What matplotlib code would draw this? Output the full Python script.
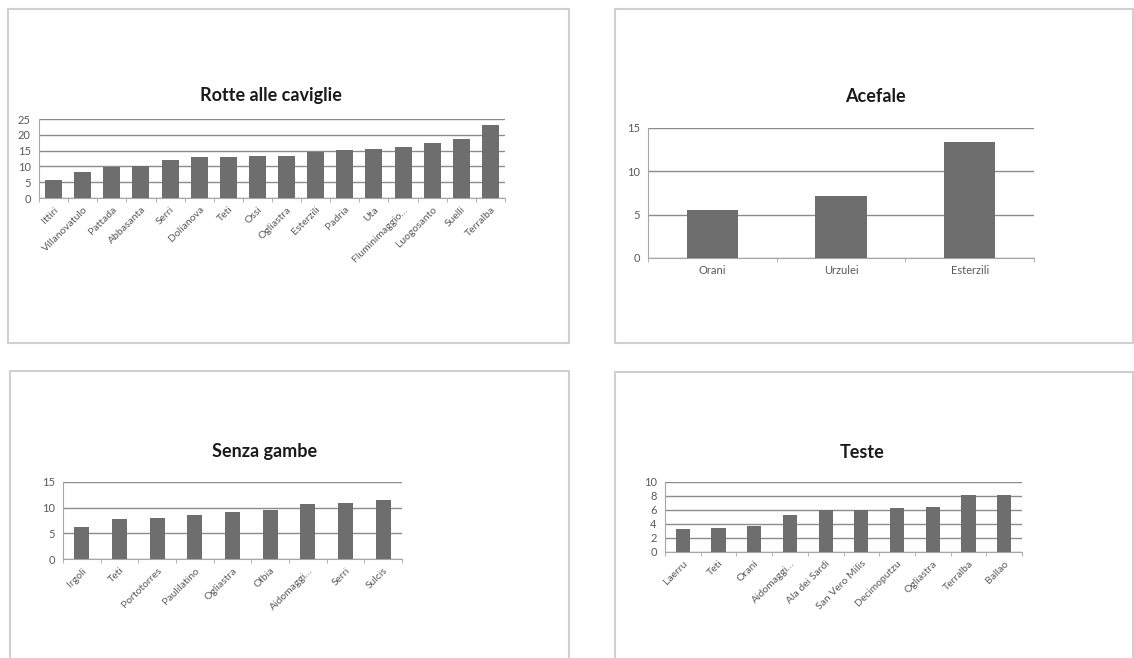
import matplotlib
matplotlib.use('Agg')

import matplotlib.pyplot as plt
from matplotlib.patches import Rectangle
import numpy as np

plt.rcParams['font.family'] = ['Lato', 'DejaVu Sans']

# Rotte alle caviglie
cav_labels = ['Ittiri', 'Villanovatulo', 'Pattada', 'Abbasanta', 'Serri', 'Dolianova', 'Teti',
              'Ossi', 'Ogliastra', 'Esterzili', 'Padria', 'Uta', 'Fluminimaggio…', 'Luogosanto',
              'Suelli', 'Terralba']
cav_values = [5.6, 8.1, 9.9, 10.1, 12.1, 12.9, 13.0, 13.2, 13.3, 14.5, 15.1, 15.6, 16.0, 17.3, 18.8, 23.1]

# Acefale
ace_labels = ['Orani', 'Urzulei', 'Esterzili']
ace_values = [5.5, 7.1, 13.4]

# Senza gambe
gam_labels = ['Irgoli', 'Teti', 'Portotorres', 'Paulilatino', 'Ogliastra', 'Olbia',
              'Aidomaggi…', 'Serri', 'Sulcis']
gam_values = [6.2, 7.8, 8.0, 8.6, 9.2, 9.5, 10.8, 11.0, 11.5]

# Teste
tes_labels = ['Laerru', 'Teti', 'Orani', 'Aidomaggi…', 'Ala dei Sardi', 'San Vero Milis',
              'Decimoputzu', 'Ogliastra', 'Terralba', 'Ballao']
tes_values = [3.35, 3.45, 3.7, 5.3, 6.0, 6.0, 6.3, 6.4, 8.2, 8.2]

W, H = 1134, 658
fig = plt.figure(figsize=(W / 100, H / 100), dpi=100)

BAR = '#6e6e6e'
GRID = '#8c8c8c'
TXT = '#595959'


def px_axes(x0, y0, x1, y1):
    # pixel box (top-left origin) -> figure axes
    return fig.add_axes([x0 / W, 1 - y1 / H, (x1 - x0) / W, (y1 - y0) / H])


def frame(x0, y0, x1, y1):
    fig.patches.append(Rectangle((x0 / W, 1 - y1 / H), (x1 - x0) / W, (y1 - y0) / H,
                                 transform=fig.transFigure, fill=False,
                                 edgecolor='#d0d0d0', linewidth=1.5))


def bar_chart(box, labels, values, ymax, step, width, title, title_xy, rot, fs=7.5):
    ax = px_axes(*box)
    x = np.arange(len(labels))
    ax.bar(x, values, width=width, color=BAR, zorder=3)
    ax.set_xlim(-0.5, len(labels) - 0.5)
    ax.set_ylim(0, ymax)
    ax.set_yticks(np.arange(0, ymax + 0.1, step))
    ax.yaxis.grid(True, color=GRID, linewidth=1)
    ax.set_axisbelow(True)
    for s in ['top', 'right']:
        ax.spines[s].set_visible(False)
    for s in ['left', 'bottom']:
        ax.spines[s].set_color('#a6a6a6')
    ax.set_xticks(x)
    if rot:
        ax.set_xticklabels(labels, rotation=45, ha='right', rotation_mode='anchor',
                           fontsize=fs, color=TXT)
    else:
        ax.set_xticklabels(labels, fontsize=fs + 0.5, color=TXT)
    ax.set_xticks(np.arange(-0.5, len(labels)), minor=True)
    ax.tick_params(axis='x', which='major', length=0, pad=5)
    ax.tick_params(axis='x', which='minor', length=3, color='#a6a6a6')
    ax.tick_params(axis='y', length=0, labelsize=fs + 0.5, labelcolor=TXT, pad=6)
    fig.text(title_xy[0] / W, 1 - title_xy[1] / H, title, ha='center', va='center',
             fontsize=13, fontweight='bold', color='#1a1a1a')
    return ax


frame(8, 9, 569, 343)
frame(615, 9, 1133, 343)
frame(10, 371, 569, 670)
frame(615, 372, 1133, 670)

bar_chart((39, 119, 505, 198), cav_labels, cav_values, 25, 5, 0.58,
          'Rotte alle caviglie', (271, 95), True)
bar_chart((648, 128, 1034, 258), ace_labels, ace_values, 15, 5, 0.4,
          'Acefale', (875, 97), False)
bar_chart((63, 482, 402, 559), gam_labels, gam_values, 15, 5, 0.4,
          'Senza gambe', (265, 451), True)
bar_chart((665, 482, 1022, 552), tes_labels, tes_values, 10, 2, 0.4,
          'Teste', (862, 452), True)

fig.savefig('out.png', dpi=100)
